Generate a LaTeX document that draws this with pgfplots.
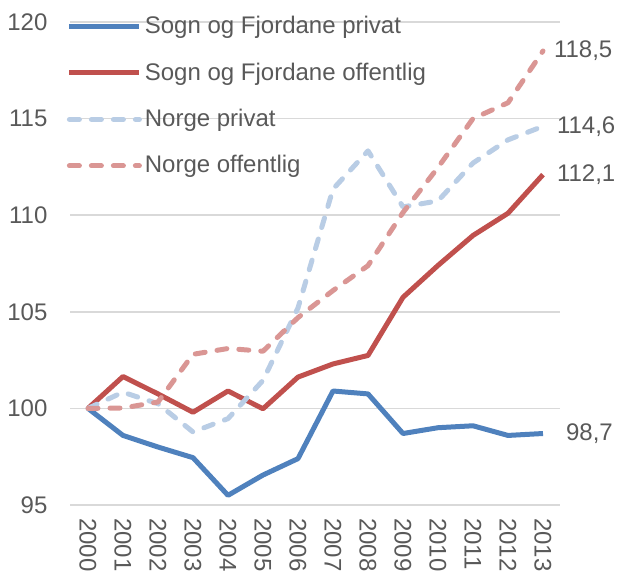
\documentclass[border=0pt]{standalone}
\usepackage{pgfplots}
\pgfplotsset{compat=1.18}
\usepackage{fontspec}
\setmainfont{Liberation Sans}

\definecolor{sfpriv}{HTML}{4F81BD}
\definecolor{sfoff}{HTML}{C0504D}
\definecolor{nopriv}{HTML}{B9CDE5}
\definecolor{nooff}{HTML}{DA9694}
\definecolor{txt}{HTML}{595959}
\definecolor{grd}{HTML}{D9D9D9}

\begin{document}
\begin{tikzpicture}
\useasboundingbox (-35.25pt,-33.5pt) rectangle (273.25pt,252.5pt);
\begin{axis}[scale only axis, width=245pt, height=241.5pt,
  xmin=-0.5, xmax=13.5, ymin=95, ymax=120,
  xtick={0,...,13},
  xticklabels={2000,2001,2002,2003,2004,2005,2006,2007,2008,2009,2010,2011,2012,2013},
  ytick={95,100,...,120},
  axis line style={draw=none}, tick style={draw=none},
  ymajorgrids, grid style={grd, line width=0.75pt},
  font=\fontsize{12}{14}\selectfont, text=txt,
  /pgf/number format/assume math mode=true,
  yticklabel style={xshift=-8pt},
  xticklabel style={rotate=-90, anchor=west, xshift=3pt},
  every axis plot/.append style={line width=2.5pt, line join=round},
  legend cell align=left,
  legend image code/.code={\draw[#1] (0pt,0pt) -- (35pt,0pt);},
  legend style={draw=none, fill=none, at={(0,1)}, anchor=north west,
    yshift=4.5pt, xshift=-2pt, inner sep=0pt, row sep=10pt,
    font=\fontsize{12}{14}\selectfont, text=txt,
    nodes={inner sep=1.5pt}},
  clip=false]
  \addplot[sfpriv] coordinates {
    (0,100) (1,98.6) (2,98.0) (3,97.45) (4,95.5) (5,96.55) (6,97.4)
    (7,100.9) (8,100.75) (9,98.7) (10,99.0) (11,99.1) (12,98.6) (13,98.7)};
  \addplot[sfoff] coordinates {
    (0,100) (1,101.65) (2,100.75) (3,99.8) (4,100.9) (5,99.98) (6,101.62)
    (7,102.3) (8,102.74) (9,105.75) (10,107.4) (11,108.95) (12,110.1) (13,112.1)};
  \addplot[nopriv, dash pattern=on 5pt off 6pt, line cap=round] coordinates {
    (0,100) (1,100.84) (2,100.24) (3,98.78) (4,99.47) (5,101.45) (6,105.2)
    (7,111.35) (8,113.33) (9,110.43) (10,110.74) (11,112.7) (12,113.9) (13,114.6)};
  \addplot[nooff, dash pattern=on 5pt off 6pt, line cap=round] coordinates {
    (0,100) (1,100.02) (2,100.33) (3,102.8) (4,103.1) (5,102.96) (6,104.7)
    (7,106.1) (8,107.39) (9,110.14) (10,112.47) (11,115.0) (12,115.82) (13,118.5)};
  \legend{Sogn og Fjordane privat, Sogn og Fjordane offentlig, Norge privat, Norge offentlig}
  \node[anchor=west, text=txt, xshift=2pt] at (axis cs:13,118.5) {118,5};
  \node[anchor=west, text=txt, xshift=3.5pt] at (axis cs:13,114.6) {114,6};
  \node[anchor=west, text=txt, xshift=3.5pt] at (axis cs:13,112.1) {112,1};
  \node[anchor=west, text=txt, xshift=8pt] at (axis cs:13,98.7) {98,7};
\end{axis}
\end{tikzpicture}
\end{document}
